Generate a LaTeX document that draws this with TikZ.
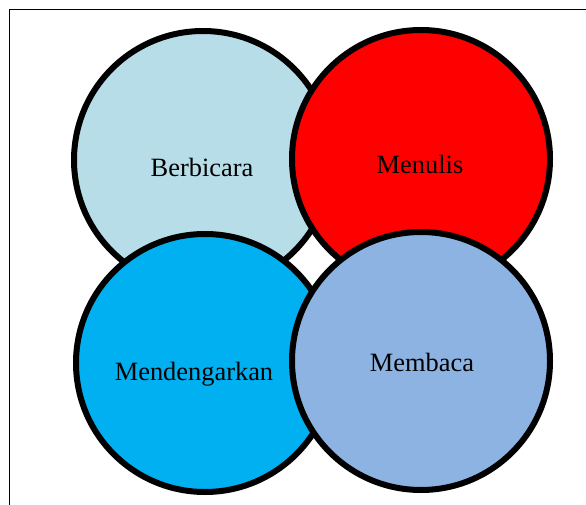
\documentclass[tikz,border=0pt]{standalone}
\usepackage{fontspec}
\setmainfont{Liberation Serif}
\definecolor{cBer}{HTML}{B7DDE8}
\definecolor{cMen}{HTML}{FF0000}
\definecolor{cDen}{HTML}{00B0F0}
\definecolor{cBac}{HTML}{8DB3E2}
\begin{document}
\begin{tikzpicture}[x=1pt,y=-1pt,
  circ/.style={circle,draw=black,line width=6pt,minimum size=258pt,inner sep=0pt},
  lbl/.style={font=\fontsize{26.4}{30}\selectfont,inner sep=0pt}]
\useasboundingbox (0,0) rectangle (586,505);
\coordinate (tl) at (9.5,9.5);
\coordinate (tr) at (586,9.5);
\coordinate (bl) at (9.5,505);
\draw[line width=1.8pt] (tr) -- (tl) -- (bl);
\node[circ,fill=cBer] (ber) at (203,160) {};
\node[circ,fill=cMen] (men) at (421,159) {};
\node[circ,fill=cDen] (den) at (205,363) {};
\node[circ,fill=cBac] (bac) at (421,361) {};
\node[lbl] (tber) at (202,167) {Berbicara};
\node[lbl] (tmen) at (420,164) {Menulis};
\node[lbl] (tden) at (194,374) {Mendengarkan};
\node[lbl] (tbac) at (422,362) {Membaca};
\end{tikzpicture}
\end{document}
